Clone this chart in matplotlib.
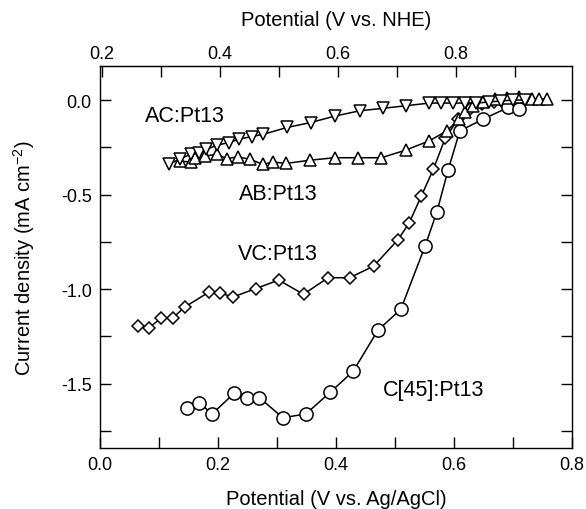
import numpy as np
import matplotlib
matplotlib.use('Agg')
import matplotlib.pyplot as plt
from matplotlib.ticker import MultipleLocator, FixedLocator, FormatStrFormatter

from matplotlib import rc
rc('font', **{'family': 'Liberation Sans', 'size': 13})
rc('mathtext', fontset='custom', rm='Liberation Sans', it='Liberation Sans')
rc('axes', unicode_minus=False)

# C[45]:Pt13 (circles)
c45_x = [0.148, 0.168, 0.190, 0.228, 0.249, 0.270, 0.310, 0.349, 0.390, 0.429,
         0.471, 0.510, 0.551, 0.571, 0.590, 0.610, 0.650, 0.692, 0.711]
c45_y = [-1.626, -1.600, -1.660, -1.549, -1.577, -1.573, -1.680, -1.660, -1.546, -1.435,
         -1.218, -1.106, -0.773, -0.592, -0.371, -0.163, -0.100, -0.039, -0.048]

# VC:Pt13 (diamonds)
vc_x = [0.064, 0.083, 0.103, 0.124, 0.144, 0.184, 0.204, 0.225, 0.264, 0.303,
        0.345, 0.387, 0.423, 0.464, 0.505, 0.524, 0.545, 0.565, 0.585, 0.607,
        0.627, 0.648, 0.668]
vc_y = [-1.197, -1.204, -1.155, -1.150, -1.094, -1.017, -1.020, -1.042, -0.997, -0.952,
        -1.027, -0.939, -0.940, -0.878, -0.739, -0.651, -0.505, -0.367, -0.203, -0.101,
        -0.048, -0.020, -0.008]

# AB:Pt13 (up triangles)
ab_x = [0.136, 0.154, 0.161, 0.178, 0.198, 0.215, 0.234, 0.255, 0.276, 0.294,
        0.316, 0.356, 0.398, 0.438, 0.477, 0.519, 0.558, 0.588, 0.609, 0.619,
        0.633, 0.650, 0.670, 0.690, 0.710, 0.732, 0.745, 0.758]
ab_y = [-0.323, -0.328, -0.305, -0.296, -0.287, -0.310, -0.300, -0.314, -0.340, -0.328,
        -0.335, -0.318, -0.305, -0.305, -0.305, -0.264, -0.216, -0.163, -0.101, -0.062,
        -0.034, -0.010, 0.005, 0.010, 0.015, 0.005, 0.005, 0.005]

# AC:Pt13 (down triangles)
ac_x = [0.117, 0.136, 0.154, 0.168, 0.180, 0.198, 0.218, 0.236, 0.257, 0.277,
        0.317, 0.357, 0.398, 0.440, 0.479, 0.519, 0.558, 0.578, 0.598, 0.619,
        0.638, 0.660, 0.680, 0.700, 0.720]
ac_y = [-0.340, -0.310, -0.287, -0.278, -0.261, -0.239, -0.225, -0.207, -0.193, -0.181,
        -0.145, -0.119, -0.085, -0.057, -0.044, -0.030, -0.016, -0.016, -0.016, -0.016,
        -0.016, -0.010, -0.005, 0.000, 0.000]

labels = ["AC:Pt13", "AB:Pt13", "VC:Pt13", "C[45]:Pt13"]
label_pos = [(0.144, -0.082), (0.302, -0.492), (0.302, -0.811), (0.565, -1.53)]

nhe_offset = 0.197

fig = plt.figure(figsize=(5.86, 5.10), dpi=100)
ax = fig.add_axes([0.1706, 0.1196, 0.8054, 0.749])

style = dict(color='k', lw=1.1, mfc='white', mec='k', mew=1.1)
ax.plot(c45_x, c45_y, marker='o', ms=9.5, **style)
ax.plot(vc_x, vc_y, marker='D', ms=6.4, **style)
ax.plot(ab_x, ab_y, marker='^', ms=8, **style)
ax.plot(ac_x, ac_y, marker='v', ms=8, **style)

for txt, (x, y) in zip(labels, label_pos):
    ax.text(x, y, txt, ha='center', va='center', fontsize=15.5)

ax.set_xlim(0.0, 0.8)
ax.set_ylim(-1.84, 0.18)
ax.xaxis.set_major_locator(MultipleLocator(0.2))
ax.xaxis.set_minor_locator(MultipleLocator(0.1))
ax.xaxis.set_major_formatter(FormatStrFormatter('%.1f'))
ax.yaxis.set_major_locator(MultipleLocator(0.5))
ax.yaxis.set_minor_locator(MultipleLocator(0.25))
ax.yaxis.set_major_formatter(FormatStrFormatter('%.1f'))
ax.tick_params(which='both', direction='in', length=8, width=1.0,
               right=True, top=False)
ax.tick_params(which='major', pad=6)
for sp in ax.spines.values():
    sp.set_linewidth(1.0)

ax.set_xlabel("Potential (V vs. Ag/AgCl)", fontsize=14.5, labelpad=11)
ax.set_ylabel(r"Current density (mA cm$^{-2}$)", fontsize=14.5, labelpad=17)

top = ax.secondary_xaxis('top', functions=(lambda x: x + nhe_offset, lambda x: x - nhe_offset))
top.xaxis.set_major_locator(FixedLocator([0.2, 0.4, 0.6, 0.8]))
top.xaxis.set_minor_locator(FixedLocator([0.3, 0.5, 0.7, 0.9]))
top.xaxis.set_major_formatter(FormatStrFormatter('%.1f'))
top.tick_params(which='both', direction='in', length=8, width=1.0)
top.tick_params(which='major', pad=3)
top.set_xlabel("Potential (V vs. NHE)", fontsize=14.5, labelpad=14)

fig.savefig('out.png', dpi=100)
